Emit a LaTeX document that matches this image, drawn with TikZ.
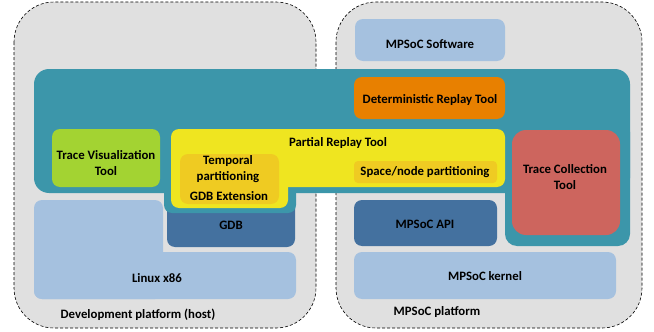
\documentclass[tikz,border=0pt]{standalone}
\usepackage{fontspec}
\setmainfont{Carlito}

\tikzset{
  lbl/.style={font=\bfseries\fontsize{12.8}{15.5}\selectfont, align=center, inner sep=0pt},
  blk/.style={rounded corners=8pt}
}

\begin{document}
\begin{tikzpicture}[x=1pt,y=-1pt]
% ------------------------------------------------ layer colors
\definecolor{pf_gray}{RGB}{224,224,224}   %#E0E0E0
\definecolor{pf_teal}{RGB}{60,150,170}    %#3C96AA
\definecolor{pf_light}{RGB}{165,193,223}  %#A5C1DF
\definecolor{pf_dark}{RGB}{68,113,159}    %#44719F
\definecolor{pf_orange}{RGB}{232,128,0}   %#E88000
\definecolor{pf_yellow}{RGB}{239,229,32}  %#EFE520
\definecolor{pf_gold}{RGB}{239,203,34}    %#EFCB22
\definecolor{pf_green}{RGB}{163,211,50}   %#A3D332
\definecolor{pf_red}{RGB}{205,101,94}     %#CD655E

\useasboundingbox (0,0) rectangle (654,332);

% ---------------------------------------------  platforms
\draw[line width=0.6pt,densely dashed,fill=pf_gray,rounded corners=40pt] (14,2) rectangle (316,328);
\draw[line width=0.6pt,densely dashed,fill=pf_gray,rounded corners=40pt] (336,2) rectangle (642,328);

% ---------------------------------------------  lower layers
\fill[blk,pf_light] (34,200) rectangle (163,299);
\fill[blk,pf_light] (34,252) rectangle (296,299);
\fill[blk,pf_dark] (167,190) rectangle (295,247);

\fill[blk,pf_light] (354,252) rectangle (616,299);
\fill[blk,pf_dark] (354,200) rectangle (497,246);
\fill[blk,pf_light] (355,19) rectangle (505,61);

% ---------------------------------------------  tool layer (teal)
\fill[pf_teal,rounded corners=15pt] (34,69) rectangle (630,193);
\fill[blk,pf_teal] (164,170) rectangle (296,213);
\fill[pf_teal,rounded corners=12pt] (505,120) rectangle (630,246);

% ---------------------------------------------  partial replay (yellow)
\fill[blk,pf_yellow] (171,129) rectangle (505,187);
\fill[blk,pf_yellow] (171,150) rectangle (288,208);
\fill[blk,pf_gold] (180,154) rectangle (279,204);
\fill[rounded corners=4pt,pf_gold] (354,161) rectangle (497,183);

% ---------------------------------------------  other tools
\fill[blk,pf_green] (52,129) rectangle (160,187);
\fill[pf_red,rounded corners=14pt] (512,130) rectangle (620,235);
\fill[blk,pf_orange] (354,77) rectangle (505,119);

% ---------------------------------------------  labels
\node[lbl] (sw)    at (430,44)  {MPSoC Software};
\node[lbl] (drt)   at (430,100) {Deterministic Replay Tool};
\node[lbl] (prt)   at (338,143) {Partial Replay Tool};
\node[lbl] (tvt)   at (106,163) {Trace Visualization\\Tool};
\node[lbl] (temp)  at (228,169) {Temporal\\partitioning};
\node[lbl] (gdbx)  at (229,196) {GDB Extension};
\node[lbl] (space) at (425,172) {Space/node partitioning};
\node[lbl] (tct)   at (565,177) {Trace Collection\\Tool};
\node[lbl] (gdb)   at (231,225) {GDB};
\node[lbl] (api)   at (425,224) {MPSoC API};
\node[lbl] (linux) at (157,278) {Linux x86};
\node[lbl] (kern)  at (485,276) {MPSoC kernel};
\node[lbl] (dev)   at (138,315) {Development platform (host)};
\node[lbl] (mpsoc) at (437,312) {MPSoC platform};

\end{tikzpicture}
\end{document}
